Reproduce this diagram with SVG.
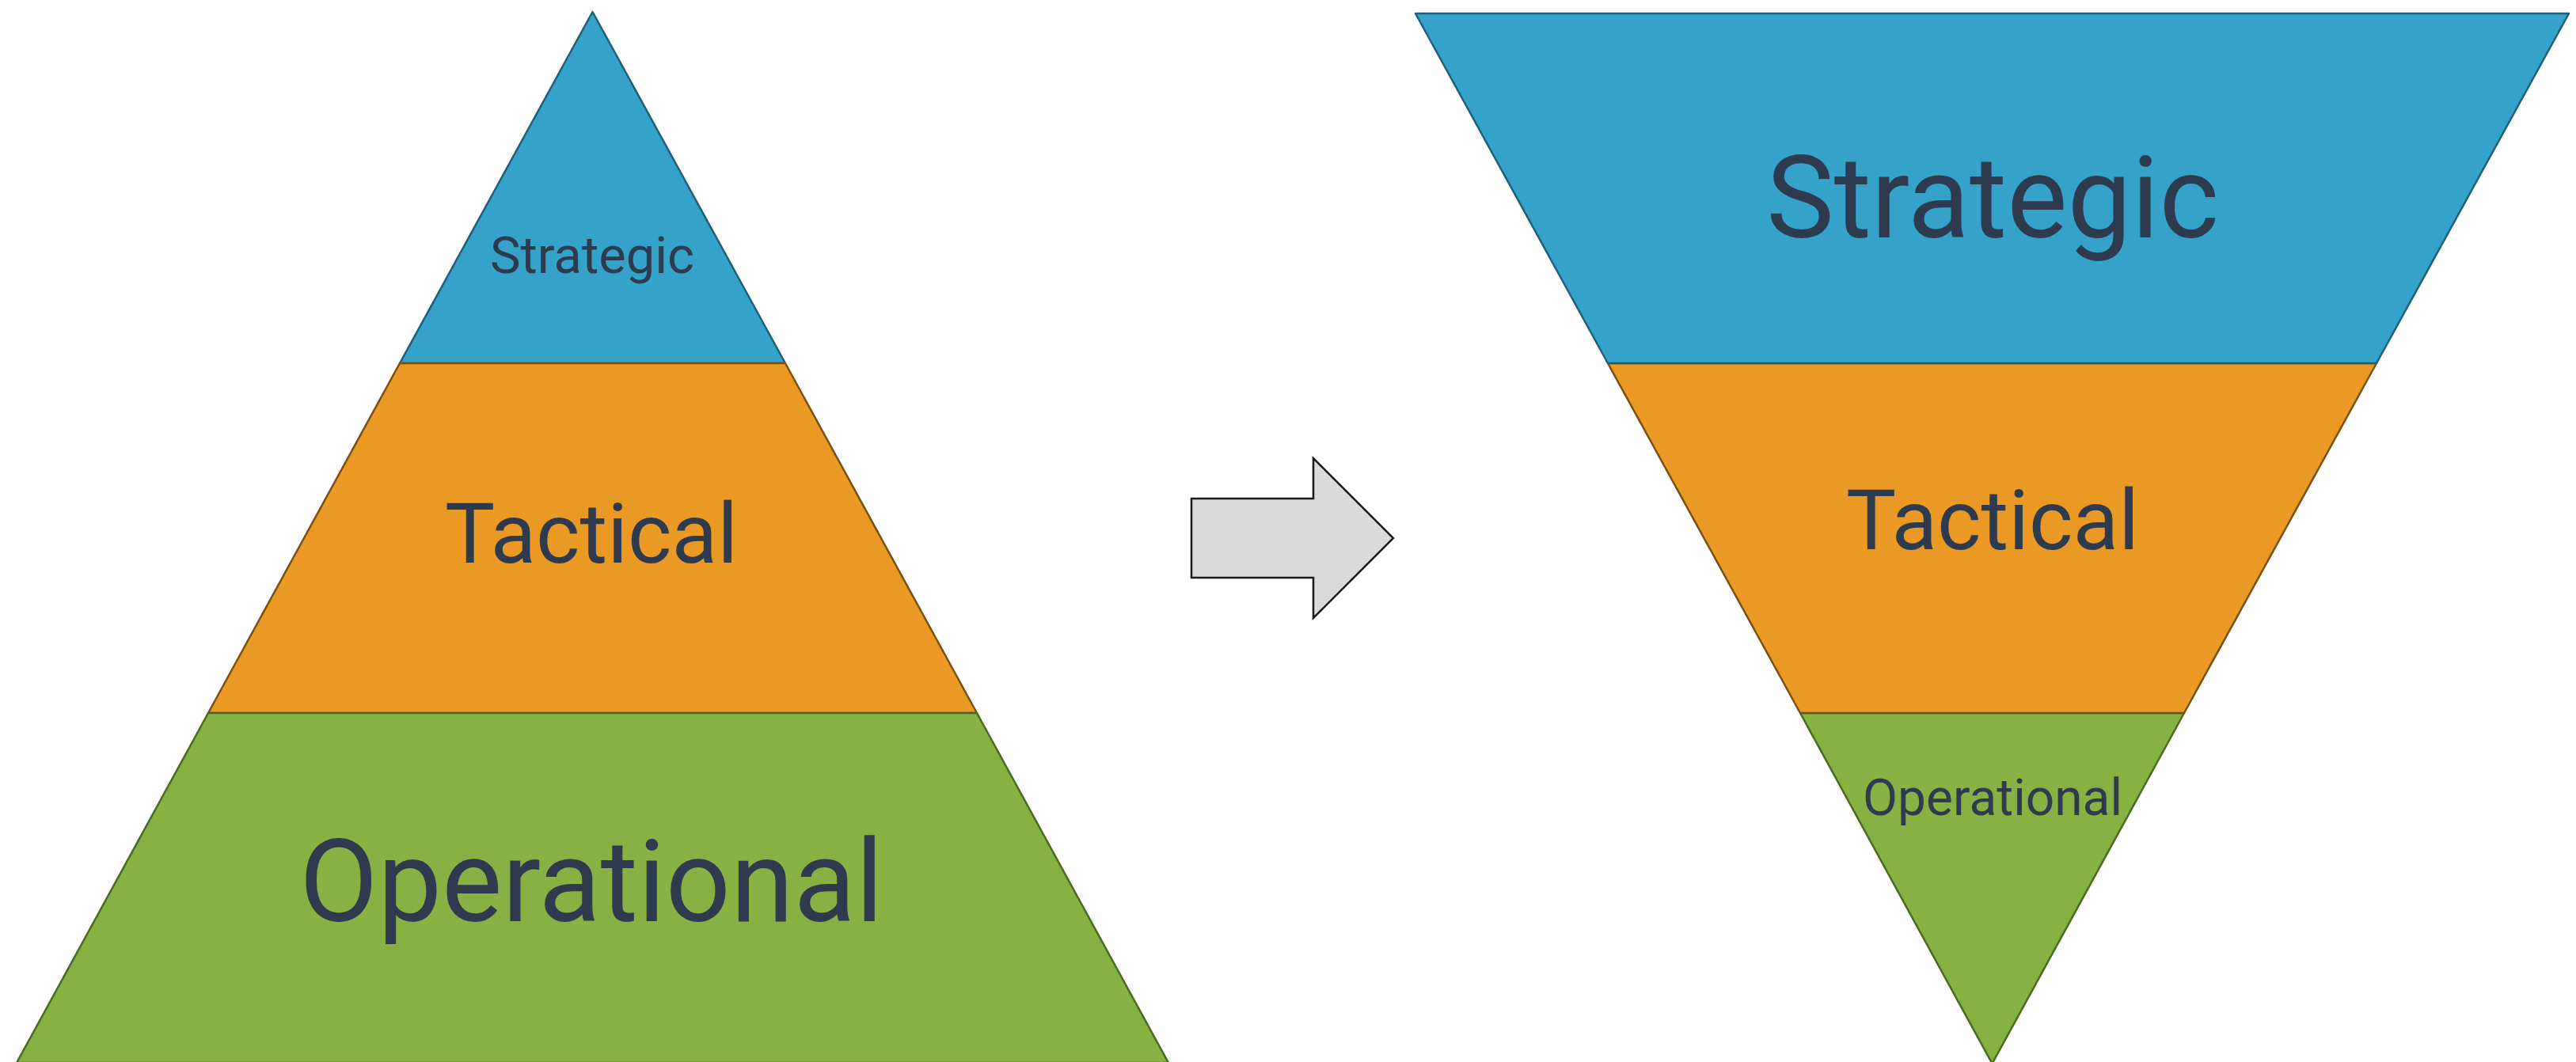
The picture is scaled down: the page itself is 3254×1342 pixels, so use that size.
<svg xmlns="http://www.w3.org/2000/svg" width="3254" height="1342" viewBox="0 0 3254 1342">
<style>
.blue{fill:#35A2CA;stroke:#1F5F78;stroke-width:2.5;stroke-linejoin:round}
.orange{fill:#EA9924;stroke:#7A5012;stroke-width:2.5;stroke-linejoin:round}
.green{fill:#86B143;stroke:#4B6A22;stroke-width:2.5;stroke-linejoin:round}
.lbl{font-family:Roboto,"Liberation Sans",sans-serif;fill:#2E3B4E;text-anchor:middle}
.arrow{fill:#DADADA;stroke:#1A1A1A;stroke-width:2.5;stroke-linejoin:miter}
</style>
<rect width="3254" height="1342" fill="#FFFFFF"/>
<g id="pyramid">
  <g id="pyr-strategic">
    <polygon class="blue" points="748.5,15 992,459 505,459"/>
    <text class="lbl" x="748" y="345" font-size="65">Strategic</text>
  </g>
  <g id="pyr-tactical">
    <polygon class="orange" points="505,459 992,459 1234,901 263,901"/>
    <text class="lbl" x="747" y="711" font-size="106">Tactical</text>
  </g>
  <g id="pyr-operational">
    <polygon class="green" points="263,901 1234,901 1476,1343 21,1343"/>
    <text class="lbl" x="747" y="1164" font-size="144">Operational</text>
  </g>
</g>
<g id="connectors">
  <polygon id="arrow" class="arrow" points="1505,630 1659,630 1659,579 1760,680 1659,781 1659,730 1505,730"/>
</g>
<g id="funnel">
  <g id="fun-operational">
    <polygon class="green" points="2274,901 2759,901 2516.5,1344"/>
    <text class="lbl" x="2517" y="1030" font-size="64">Operational</text>
  </g>
  <g id="fun-tactical">
    <polygon class="orange" points="2031,459 3002,459 2759,901 2274,901"/>
    <text class="lbl" x="2517" y="694" font-size="106">Tactical</text>
  </g>
  <g id="fun-strategic">
    <polygon class="blue" points="1788,17 3245,17 3002,459 2031,459"/>
    <text class="lbl" x="2517" y="300" font-size="144">Strategic</text>
  </g>
</g>
</svg>
